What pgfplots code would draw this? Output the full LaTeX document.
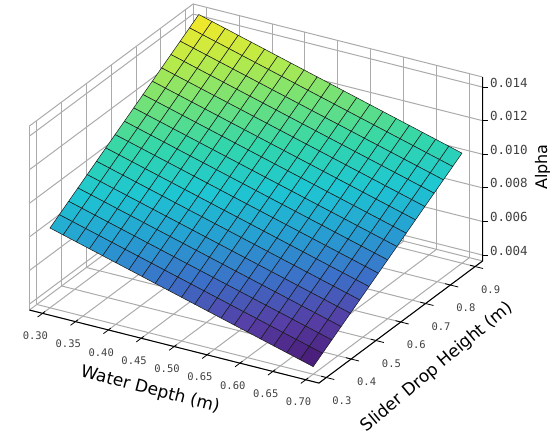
\documentclass[border=0pt]{standalone}
\usepackage{fontspec}
\setmainfont{DejaVu Sans}
\newfontfamily\ticfont{DejaVu Sans Mono}
\usepackage{pgfplots}
\pgfplotsset{compat=1.18}
\begin{document}
\begin{tikzpicture}
\begin{axis}[
  x={(658pt,-166pt)}, y={(248pt,185pt)}, z={(0pt,16.8pt)},
  xmin=0.28, xmax=0.72, ymin=0.27, ymax=0.93, zmin=3.65, zmax=14.6,
  xtick={0.30,0.35,0.40,0.45,0.50,0.55,0.60,0.65,0.70},
  xticklabels={0.30,0.35,0.40,0.45,0.50,0.65,0.60,0.65,0.70},
  ytick={0.3,0.4,0.5,0.6,0.7,0.8,0.9},
  yticklabels={0.3,0.4,0.5,0.6,0.7,0.8,0.9},
  ztick={4,6,8,10,12,14},
  zticklabels={0.004,0.006,0.008,0.010,0.012,0.014},
  zticklabel pos=right,
  grid=major,
  major grid style={draw=black!33, line width=1pt},
  axis line style={draw=black!33, line width=1pt},
  major tick length=0pt,
  ticklabel style={font=\ticfont\fontsize{10.5}{12}\selectfont, text=black!75},
  xticklabel style={yshift=-12pt, xshift=-2pt},
  yticklabel style={xshift=7pt, yshift=-12pt},
  zticklabel style={font=\ticfont\fontsize{12.5}{14}\selectfont, xshift=4pt},
  clip=false,
  colormap={refmap}{rgb255(0)=(72,22,112) rgb255(1)=(86,62,165) rgb255(2)=(60,112,200) rgb255(3)=(38,160,210) rgb255(4)=(30,198,210) rgb255(5)=(50,214,172) rgb255(6)=(112,225,122) rgb255(7)=(190,235,70) rgb255(8)=(253,231,37)},
]
\addplot3[surf, shader=faceted, faceted color=black!90, line width=0.5pt, mesh/cols=21]
table[x=x, y=y, z expr=\thisrow{z}*1000] {
x y z
0.30 0.3 0.008400
0.32 0.3 0.008185
0.34 0.3 0.007970
0.36 0.3 0.007755
0.38 0.3 0.007540
0.40 0.3 0.007325
0.42 0.3 0.007110
0.44 0.3 0.006895
0.46 0.3 0.006680
0.48 0.3 0.006465
0.50 0.3 0.006250
0.52 0.3 0.006035
0.54 0.3 0.005820
0.56 0.3 0.005605
0.58 0.3 0.005390
0.60 0.3 0.005175
0.62 0.3 0.004960
0.64 0.3 0.004745
0.66 0.3 0.004530
0.68 0.3 0.004315
0.70 0.3 0.004100

0.30 0.3375 0.008781
0.32 0.3375 0.008566
0.34 0.3375 0.008351
0.36 0.3375 0.008136
0.38 0.3375 0.007921
0.40 0.3375 0.007706
0.42 0.3375 0.007491
0.44 0.3375 0.007276
0.46 0.3375 0.007061
0.48 0.3375 0.006846
0.50 0.3375 0.006631
0.52 0.3375 0.006416
0.54 0.3375 0.006201
0.56 0.3375 0.005986
0.58 0.3375 0.005771
0.60 0.3375 0.005556
0.62 0.3375 0.005341
0.64 0.3375 0.005126
0.66 0.3375 0.004911
0.68 0.3375 0.004696
0.70 0.3375 0.004481

0.30 0.375 0.009163
0.32 0.375 0.008948
0.34 0.375 0.008733
0.36 0.375 0.008518
0.38 0.375 0.008303
0.40 0.375 0.008088
0.42 0.375 0.007873
0.44 0.375 0.007658
0.46 0.375 0.007443
0.48 0.375 0.007228
0.50 0.375 0.007013
0.52 0.375 0.006798
0.54 0.375 0.006583
0.56 0.375 0.006368
0.58 0.375 0.006153
0.60 0.375 0.005938
0.62 0.375 0.005723
0.64 0.375 0.005508
0.66 0.375 0.005293
0.68 0.375 0.005078
0.70 0.375 0.004863

0.30 0.4125 0.009544
0.32 0.4125 0.009329
0.34 0.4125 0.009114
0.36 0.4125 0.008899
0.38 0.4125 0.008684
0.40 0.4125 0.008469
0.42 0.4125 0.008254
0.44 0.4125 0.008039
0.46 0.4125 0.007824
0.48 0.4125 0.007609
0.50 0.4125 0.007394
0.52 0.4125 0.007179
0.54 0.4125 0.006964
0.56 0.4125 0.006749
0.58 0.4125 0.006534
0.60 0.4125 0.006319
0.62 0.4125 0.006104
0.64 0.4125 0.005889
0.66 0.4125 0.005674
0.68 0.4125 0.005459
0.70 0.4125 0.005244

0.30 0.45 0.009925
0.32 0.45 0.009710
0.34 0.45 0.009495
0.36 0.45 0.009280
0.38 0.45 0.009065
0.40 0.45 0.008850
0.42 0.45 0.008635
0.44 0.45 0.008420
0.46 0.45 0.008205
0.48 0.45 0.007990
0.50 0.45 0.007775
0.52 0.45 0.007560
0.54 0.45 0.007345
0.56 0.45 0.007130
0.58 0.45 0.006915
0.60 0.45 0.006700
0.62 0.45 0.006485
0.64 0.45 0.006270
0.66 0.45 0.006055
0.68 0.45 0.005840
0.70 0.45 0.005625

0.30 0.4875 0.010306
0.32 0.4875 0.010091
0.34 0.4875 0.009876
0.36 0.4875 0.009661
0.38 0.4875 0.009446
0.40 0.4875 0.009231
0.42 0.4875 0.009016
0.44 0.4875 0.008801
0.46 0.4875 0.008586
0.48 0.4875 0.008371
0.50 0.4875 0.008156
0.52 0.4875 0.007941
0.54 0.4875 0.007726
0.56 0.4875 0.007511
0.58 0.4875 0.007296
0.60 0.4875 0.007081
0.62 0.4875 0.006866
0.64 0.4875 0.006651
0.66 0.4875 0.006436
0.68 0.4875 0.006221
0.70 0.4875 0.006006

0.30 0.525 0.010688
0.32 0.525 0.010473
0.34 0.525 0.010258
0.36 0.525 0.010043
0.38 0.525 0.009828
0.40 0.525 0.009613
0.42 0.525 0.009398
0.44 0.525 0.009183
0.46 0.525 0.008968
0.48 0.525 0.008753
0.50 0.525 0.008538
0.52 0.525 0.008323
0.54 0.525 0.008108
0.56 0.525 0.007893
0.58 0.525 0.007678
0.60 0.525 0.007463
0.62 0.525 0.007248
0.64 0.525 0.007033
0.66 0.525 0.006818
0.68 0.525 0.006603
0.70 0.525 0.006388

0.30 0.5625 0.011069
0.32 0.5625 0.010854
0.34 0.5625 0.010639
0.36 0.5625 0.010424
0.38 0.5625 0.010209
0.40 0.5625 0.009994
0.42 0.5625 0.009779
0.44 0.5625 0.009564
0.46 0.5625 0.009349
0.48 0.5625 0.009134
0.50 0.5625 0.008919
0.52 0.5625 0.008704
0.54 0.5625 0.008489
0.56 0.5625 0.008274
0.58 0.5625 0.008059
0.60 0.5625 0.007844
0.62 0.5625 0.007629
0.64 0.5625 0.007414
0.66 0.5625 0.007199
0.68 0.5625 0.006984
0.70 0.5625 0.006769

0.30 0.6 0.011450
0.32 0.6 0.011235
0.34 0.6 0.011020
0.36 0.6 0.010805
0.38 0.6 0.010590
0.40 0.6 0.010375
0.42 0.6 0.010160
0.44 0.6 0.009945
0.46 0.6 0.009730
0.48 0.6 0.009515
0.50 0.6 0.009300
0.52 0.6 0.009085
0.54 0.6 0.008870
0.56 0.6 0.008655
0.58 0.6 0.008440
0.60 0.6 0.008225
0.62 0.6 0.008010
0.64 0.6 0.007795
0.66 0.6 0.007580
0.68 0.6 0.007365
0.70 0.6 0.007150

0.30 0.6375 0.011831
0.32 0.6375 0.011616
0.34 0.6375 0.011401
0.36 0.6375 0.011186
0.38 0.6375 0.010971
0.40 0.6375 0.010756
0.42 0.6375 0.010541
0.44 0.6375 0.010326
0.46 0.6375 0.010111
0.48 0.6375 0.009896
0.50 0.6375 0.009681
0.52 0.6375 0.009466
0.54 0.6375 0.009251
0.56 0.6375 0.009036
0.58 0.6375 0.008821
0.60 0.6375 0.008606
0.62 0.6375 0.008391
0.64 0.6375 0.008176
0.66 0.6375 0.007961
0.68 0.6375 0.007746
0.70 0.6375 0.007531

0.30 0.675 0.012213
0.32 0.675 0.011998
0.34 0.675 0.011783
0.36 0.675 0.011568
0.38 0.675 0.011353
0.40 0.675 0.011138
0.42 0.675 0.010923
0.44 0.675 0.010708
0.46 0.675 0.010493
0.48 0.675 0.010278
0.50 0.675 0.010063
0.52 0.675 0.009848
0.54 0.675 0.009633
0.56 0.675 0.009418
0.58 0.675 0.009203
0.60 0.675 0.008988
0.62 0.675 0.008773
0.64 0.675 0.008558
0.66 0.675 0.008343
0.68 0.675 0.008128
0.70 0.675 0.007913

0.30 0.7125 0.012594
0.32 0.7125 0.012379
0.34 0.7125 0.012164
0.36 0.7125 0.011949
0.38 0.7125 0.011734
0.40 0.7125 0.011519
0.42 0.7125 0.011304
0.44 0.7125 0.011089
0.46 0.7125 0.010874
0.48 0.7125 0.010659
0.50 0.7125 0.010444
0.52 0.7125 0.010229
0.54 0.7125 0.010014
0.56 0.7125 0.009799
0.58 0.7125 0.009584
0.60 0.7125 0.009369
0.62 0.7125 0.009154
0.64 0.7125 0.008939
0.66 0.7125 0.008724
0.68 0.7125 0.008509
0.70 0.7125 0.008294

0.30 0.75 0.012975
0.32 0.75 0.012760
0.34 0.75 0.012545
0.36 0.75 0.012330
0.38 0.75 0.012115
0.40 0.75 0.011900
0.42 0.75 0.011685
0.44 0.75 0.011470
0.46 0.75 0.011255
0.48 0.75 0.011040
0.50 0.75 0.010825
0.52 0.75 0.010610
0.54 0.75 0.010395
0.56 0.75 0.010180
0.58 0.75 0.009965
0.60 0.75 0.009750
0.62 0.75 0.009535
0.64 0.75 0.009320
0.66 0.75 0.009105
0.68 0.75 0.008890
0.70 0.75 0.008675

0.30 0.7875 0.013356
0.32 0.7875 0.013141
0.34 0.7875 0.012926
0.36 0.7875 0.012711
0.38 0.7875 0.012496
0.40 0.7875 0.012281
0.42 0.7875 0.012066
0.44 0.7875 0.011851
0.46 0.7875 0.011636
0.48 0.7875 0.011421
0.50 0.7875 0.011206
0.52 0.7875 0.010991
0.54 0.7875 0.010776
0.56 0.7875 0.010561
0.58 0.7875 0.010346
0.60 0.7875 0.010131
0.62 0.7875 0.009916
0.64 0.7875 0.009701
0.66 0.7875 0.009486
0.68 0.7875 0.009271
0.70 0.7875 0.009056

0.30 0.825 0.013738
0.32 0.825 0.013523
0.34 0.825 0.013308
0.36 0.825 0.013093
0.38 0.825 0.012878
0.40 0.825 0.012663
0.42 0.825 0.012448
0.44 0.825 0.012233
0.46 0.825 0.012018
0.48 0.825 0.011803
0.50 0.825 0.011588
0.52 0.825 0.011373
0.54 0.825 0.011158
0.56 0.825 0.010943
0.58 0.825 0.010728
0.60 0.825 0.010513
0.62 0.825 0.010298
0.64 0.825 0.010083
0.66 0.825 0.009868
0.68 0.825 0.009653
0.70 0.825 0.009438

0.30 0.8625 0.014119
0.32 0.8625 0.013904
0.34 0.8625 0.013689
0.36 0.8625 0.013474
0.38 0.8625 0.013259
0.40 0.8625 0.013044
0.42 0.8625 0.012829
0.44 0.8625 0.012614
0.46 0.8625 0.012399
0.48 0.8625 0.012184
0.50 0.8625 0.011969
0.52 0.8625 0.011754
0.54 0.8625 0.011539
0.56 0.8625 0.011324
0.58 0.8625 0.011109
0.60 0.8625 0.010894
0.62 0.8625 0.010679
0.64 0.8625 0.010464
0.66 0.8625 0.010249
0.68 0.8625 0.010034
0.70 0.8625 0.009819

0.30 0.9 0.014500
0.32 0.9 0.014285
0.34 0.9 0.014070
0.36 0.9 0.013855
0.38 0.9 0.013640
0.40 0.9 0.013425
0.42 0.9 0.013210
0.44 0.9 0.012995
0.46 0.9 0.012780
0.48 0.9 0.012565
0.50 0.9 0.012350
0.52 0.9 0.012135
0.54 0.9 0.011920
0.56 0.9 0.011705
0.58 0.9 0.011490
0.60 0.9 0.011275
0.62 0.9 0.011060
0.64 0.9 0.010845
0.66 0.9 0.010630
0.68 0.9 0.010415
0.70 0.9 0.010200
};
\coordinate (A) at (axis cs:0.3,0.3,8.4);
\draw[black, line width=1pt] (axis cs:0.28,0.27,3.65) -- (axis cs:0.72,0.27,3.65) -- (axis cs:0.72,0.93,3.65) -- (axis cs:0.72,0.93,14.6);
\pgfplotsinvokeforeach{0.30,0.35,0.40,0.45,0.50,0.55,0.60,0.65,0.70}{
  \draw[black, line width=0.8pt] (axis cs:#1,0.28,3.65) -- (axis cs:#1,0.25,3.65);
}
\pgfplotsinvokeforeach{0.3,0.4,0.5,0.6,0.7,0.8,0.9}{
  \draw[black, line width=0.8pt] (axis cs:0.712,#1,3.65) -- (axis cs:0.732,#1,3.65);
}
\pgfplotsinvokeforeach{4,6,8,10,12,14}{
  \draw[black, line width=0.8pt] (axis cs:0.72,0.93,#1) -- ++(5pt,0pt);
}
\node[rotate=-14.5, font=\fontsize{17}{17}\selectfont] at (axis cs:0.539,0.07,3.65) {Water Depth (m)};
\node[rotate=40, font=\fontsize{17}{17}\selectfont] at (axis cs:0.83,0.455,3.65) {Slider Drop Height (m)};
\node[xshift=60pt, rotate=90, font=\fontsize{16}{16}\selectfont] at (axis cs:0.72,0.93,9.24) {Alpha};
\end{axis}
\pgfresetboundingbox
\path[use as bounding box] (A) ++(-50pt,-208pt) rectangle ++(550pt,436pt);
\end{tikzpicture}
\end{document}
